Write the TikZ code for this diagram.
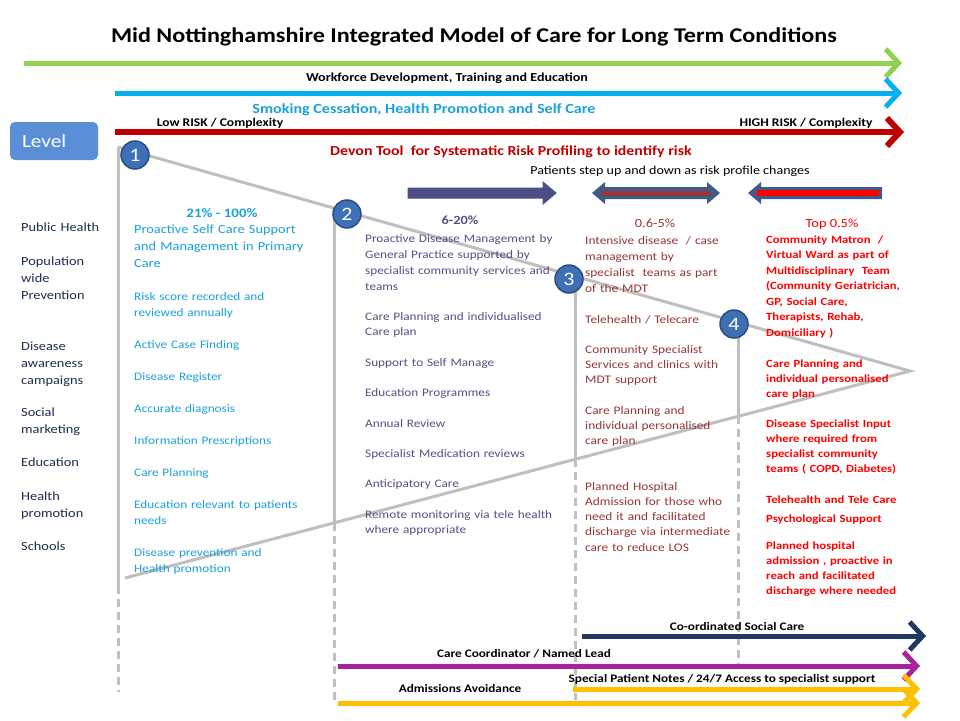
\documentclass[tikz,border=0pt]{standalone}
\usepackage{fontspec}
\setmainfont{Carlito}[FakeStretch=1.15]
\usetikzlibrary{arrows.meta}
\definecolor{cgreen}{HTML}{92D050}
\definecolor{cblue}{HTML}{00B0F0}
\definecolor{cred}{HTML}{C00000}
\definecolor{cgray}{HTML}{BFBFBF}
\definecolor{ccyan}{HTML}{1BA1DC}
\definecolor{cpurp}{HTML}{5F4B85}
\definecolor{cbrown}{HTML}{953735}
\definecolor{cbright}{HTML}{FF0000}
\definecolor{cnavytext}{HTML}{1F2D4F}
\definecolor{cnavy}{HTML}{1F3864}
\definecolor{cmag}{HTML}{AA219C}
\definecolor{cgold}{HTML}{FFC000}
\definecolor{circfill}{HTML}{3F6FB4}
\definecolor{circline}{HTML}{2B4D80}
\definecolor{levelfill}{HTML}{5A8ED6}
\definecolor{stepout}{HTML}{3E5A89}
\definecolor{stepin}{HTML}{524C86}
\begin{document}
\begin{tikzpicture}[x=1pt,y=-1pt,
  chev/.style={line width=5pt,-{Straight Barb[length=13pt,width=28pt]}},
  gline/.style={cgray,line width=3pt},
  gdash/.style={cgray,line width=3pt,dash pattern=on 8pt off 5pt},
  num/.style={circle,fill=circfill,draw=circline,line width=1.5pt,minimum size=28pt,inner sep=0pt,text=white,font=\fontsize{19}{19}\selectfont},
  lab/.style={anchor=base,inner sep=0pt,font=\bfseries\fontsize{11.5}{14}\selectfont},
  col/.style={anchor=base west,inner sep=0pt,align=left,text width=#1},
  lefttxt/.style={col=100pt,text=cnavytext,font=\fontsize{12.5}{17}\selectfont},
  c1/.style={col=220pt,text=ccyan,font=\fontsize{11.5}{16}\selectfont},
  c2/.style={col=230pt,text=cpurp,font=\fontsize{11.5}{15.5}\selectfont},
  c3/.style={col=190pt,text=cbrown,font=\fontsize{11.6}{15.3}\selectfont},
  c4/.style={col=190pt,text=cbright,font=\bfseries\fontsize{11}{15.3}\selectfont},
  head/.style={anchor=base,inner sep=0pt,font=\bfseries\fontsize{12.5}{15}\selectfont}
]
\useasboundingbox (0,0) rectangle (960,720);
\fill[white] (0,0) rectangle (960,720);

% title
\node[anchor=base,inner sep=0pt,font=\bfseries\fontsize{21}{24}\selectfont] (title) at (474,42) {Mid Nottinghamshire Integrated Model of Care for Long Term Conditions};

% top arrows
\coordinate (g1) at (24,63);  \coordinate (g2) at (902,63);
\coordinate (b1) at (115,93); \coordinate (b2) at (902,93);
\coordinate (r1) at (115,132); \coordinate (r2) at (904,132);
\draw[chev,cgreen] (g1) -- (g2);
\draw[chev,cblue] (b1) -- (b2);
\draw[chev,cred,line width=6pt] (r1) -- (r2);
\node[lab,font=\bfseries\fontsize{12.2}{14}\selectfont] (wf) at (447,81) {Workforce Development, Training and Education};
\node[lab,text=ccyan,font=\bfseries\fontsize{14}{16}\selectfont] (smk) at (424,113) {Smoking Cessation, Health Promotion and Self Care};
\node[lab,font=\bfseries\fontsize{11.8}{13}\selectfont] (low) at (220,126) {Low RISK / Complexity};
\node[lab,font=\bfseries\fontsize{11.8}{13}\selectfont] (high) at (806,126) {HIGH RISK / Complexity};
\node[lab,text=cred,font=\bfseries\fontsize{13.8}{15}\selectfont] (devon) at (511,155) {Devon Tool\ \ for Systematic Risk Profiling to identify risk};

% level box
\node[fill=levelfill,rounded corners=5pt,text width=64pt,align=left,inner xsep=12pt,inner ysep=0pt,minimum height=38pt,text=white,font=\fontsize{18.5}{18}\selectfont] (level) at (54,141) {Level};

% patients step
\node[anchor=base,inner sep=0pt,font=\fontsize{12.2}{14}\selectfont] (pat) at (670,174) {Patients step up and down as risk profile changes};
% step arrows
\fill[stepin,draw=stepout,line width=1pt] (408,188) -- (543,188) -- (543,182) -- (556,193) -- (543,204) -- (543,198) -- (408,198) -- cycle;
\fill[stepout] (592,193) -- (605,182) -- (605,187) -- (707,187) -- (707,182) -- (720,193) -- (707,204) -- (707,199) -- (605,199) -- (605,204) -- cycle;
\fill[cbrown] (601,190.5) rectangle (711,195.5);
\fill[stepout] (748,193) -- (761,182) -- (761,187) -- (882,187) -- (882,199) -- (761,199) -- (761,204) -- cycle;
\fill[cbright] (757,190) rectangle (879,196);

% grey model lines
\coordinate (tl) at (118,147);
\coordinate (tip) at (910,371);
\coordinate (bl) at (125,578);
\draw[gline] (tl) -- (tip) -- (bl);
\coordinate (v1a) at (118,147); \coordinate (v1b) at (118,586); \coordinate (v1c) at (118,692);
\coordinate (v2a) at (334,210); \coordinate (v2b) at (334,523); \coordinate (v2c) at (334,700);
\coordinate (v3a) at (575,276); \coordinate (v3b) at (575,459); \coordinate (v3c) at (575,700);
\coordinate (v4a) at (738,322); \coordinate (v4b) at (738,416); \coordinate (v4c) at (738,665);
\draw[gline] (v1a) -- (v1b);
\draw[gline] (v2a) -- (v2b);
\draw[gline] (v3a) -- (v3b);
\draw[gline] (v4a) -- (v4b);
\draw[gdash] (v1b) -- (v1c);
\draw[gdash] (v2b) -- (v2c);
\draw[gdash] (v3b) -- (v3c);
\draw[gdash] (v4b) -- (v4c);

% numbered circles
\node[num] (n1) at (135,155) {1};
\node[num] (n2) at (347,214) {2};
\node[num] (n3) at (569,279) {3};
\node[num] (n4) at (734,324) {4};

% left column
\node[lefttxt] (l1) at (21,231) {Public Health};
\node[lefttxt] (l2) at (21,265) {Population\\wide\\Prevention};
\node[lefttxt] (l3) at (21,350) {Disease\\awareness\\campaigns};
\node[lefttxt] (l4) at (21,416) {Social\\marketing};
\node[lefttxt] (l5) at (21,466) {Education};
\node[lefttxt] (l6) at (21,500) {Health\\promotion};
\node[lefttxt] (l7) at (21,550) {Schools};

% column 1
\node[head,text=ccyan,font=\bfseries\fontsize{13}{15}\selectfont] (h1) at (222,217) {21\% - 100\%};
\node[c1,font=\fontsize{12.5}{17}\selectfont] (a1) at (134,233) {Proactive Self Care Support\\and Management in Primary\\Care};
\node[c1] (a2) at (134,300) {Risk score recorded and\\reviewed annually};
\node[c1] (a3) at (134,348) {Active Case Finding};
\node[c1] (a4) at (134,380) {Disease Register};
\node[c1] (a5) at (134,412) {Accurate diagnosis};
\node[c1] (a6) at (134,444) {Information Prescriptions};
\node[c1] (a7) at (134,476) {Care Planning};
\node[c1] (a8) at (134,508) {Education relevant to patients\\needs};
\node[c1] (a9) at (134,556) {Disease prevention and\\Health promotion};

% column 2
\node[head,text=cpurp] (h2) at (460,224) {6-20\%};
\node[c2,font=\fontsize{11.5}{16}\selectfont] (b1t) at (365,242) {Proactive Disease Management by\\General Practice supported by\\specialist community services and\\teams};
\node[c2] (b2t) at (365,320) {Care Planning and individualised\\Care plan};
\node[c2] (b3t) at (365,366) {Support to Self Manage};
\node[c2] (b4t) at (365,396) {Education Programmes};
\node[c2] (b5t) at (365,427) {Annual Review};
\node[c2] (b6t) at (365,457) {Specialist Medication reviews};
\node[c2] (b7t) at (365,487) {Anticipatory Care};
\node[c2] (b8t) at (365,518) {Remote monitoring via tele health\\where appropriate};

% column 3
\node[head,text=cbrown,font=\fontsize{12.5}{15}\selectfont] (h3) at (655,227) {0.6-5\%};
\node[c3,font=\fontsize{11.6}{16}\selectfont] (c1t) at (585,244) {Intensive disease\ \ / case\\management by\\specialist\ \ teams as part\\of the MDT};
\node[c3] (c2t) at (585,323) {Telehealth / Telecare};
\node[c3] (c3t) at (585,353) {Community Specialist\\Services and clinics with\\MDT support};
\node[c3] (c4t) at (585,414) {Care Planning and\\individual personalised\\care plan};
\node[c3] (c5t) at (585,490) {Planned Hospital\\Admission for those who\\need it and facilitated\\discharge via intermediate\\care to reduce LOS};

% column 4
\node[head,text=cbright,font=\fontsize{12.5}{15}\selectfont] (h4) at (832,227) {Top 0.5\%};
\node[c4,font=\bfseries\fontsize{11}{15.5}\selectfont] (d1t) at (766,243) {Community Matron\ \ /\\Virtual Ward as part of\\Multidisciplinary\ \ Team\\(Community Geriatrician,\\GP, Social Care,\\Therapists, Rehab,\\Domiciliary )};
\node[c4] (d2t) at (766,367) {Care Planning and\\individual personalised\\care plan};
\node[c4] (d3t) at (766,427) {Disease Specialist Input\\where required from\\specialist community\\teams ( COPD, Diabetes)};
\node[c4] (d4t) at (766,503) {Telehealth and Tele Care};
\node[c4] (d5t) at (766,522) {Psychological Support};
\node[c4] (d6t) at (766,549) {Planned hospital\\admission , proactive in\\reach and facilitated\\discharge where needed};

% bottom arrows
\coordinate (s1) at (582,636); \coordinate (s2) at (926,636);
\coordinate (m1) at (338,666); \coordinate (m2) at (920,666);
\coordinate (y1) at (573,689); \coordinate (y2) at (920,689);
\coordinate (z1) at (338,703); \coordinate (z2) at (920,703);
\draw[chev,cnavy] (s1) -- (s2);
\draw[chev,cmag] (m1) -- (m2);
\draw[chev,cgold] (y1) -- (y2);
\draw[chev,cgold] (z1) -- (z2);
\node[lab,font=\bfseries\fontsize{11.5}{13}\selectfont] (sl) at (737,630) {Co-ordinated Social Care};
\node[lab,font=\bfseries\fontsize{11.5}{13}\selectfont] (ml) at (524,657) {Care Coordinator / Named Lead};
\node[lab,font=\bfseries\fontsize{11.5}{13}\selectfont] (yl) at (722,682) {Special Patient Notes / 24/7 Access to specialist support};
\node[lab,font=\bfseries\fontsize{11.5}{13}\selectfont] (zl) at (460,692) {Admissions Avoidance};
\end{tikzpicture}
\end{document}
